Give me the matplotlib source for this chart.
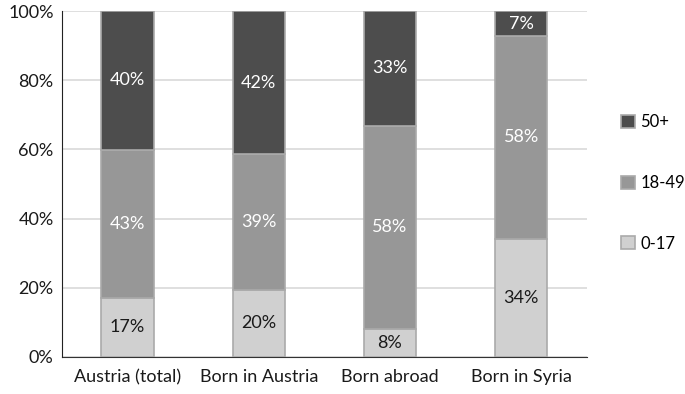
import matplotlib
matplotlib.use("Agg")
import matplotlib.pyplot as plt
import numpy as np

categories = ["Austria (total)", "Born in Austria", "Born abroad", "Born in Syria"]
series_names = ["0-17", "18-49", "50+"]
v_0_17 = [17.1, 19.4, 8.2, 34.2]
v_18_49 = [42.8, 39.2, 58.6, 58.5]
v_50 = [40.1, 41.4, 33.2, 7.3]
labels_0_17 = ["17%", "20%", "8%", "34%"]
labels_18_49 = ["43%", "39%", "58%", "58%"]
labels_50 = ["40%", "42%", "33%", "7%"]
yticks = [0, 20, 40, 60, 80, 100]
ytick_labels = ["0%", "20%", "40%", "60%", "80%", "100%"]

colors = ["#d0d0d0", "#979797", "#4d4d4d"]
text_colors = ["#1a1a1a", "white", "white"]

plt.rcParams["font.family"] = ["Lato", "DejaVu Sans"]
fig = plt.figure(figsize=(6.85, 3.94), dpi=100)
ax = fig.add_axes([0.0905, 0.094, 0.766, 0.878])

x = np.arange(len(categories))
bottom = np.zeros(len(categories))
handles = []
for vals, labs, col, tc, name in zip([v_0_17, v_18_49, v_50],
                                     [labels_0_17, labels_18_49, labels_50],
                                     colors, text_colors, series_names):
    vals = np.array(vals)
    b = ax.bar(x, vals, 0.4, bottom=bottom, color=col, edgecolor="#aaaaaa",
               linewidth=1.2, label=name, zorder=3)
    handles.append(b)
    for xi, bi, vi, lab in zip(x, bottom, vals, labs):
        ax.text(xi, bi + vi / 2, lab, ha="center", va="center", color=tc,
                fontsize=13, zorder=4)
    bottom += vals

ax.set_xlim(-0.5, len(categories) - 0.5)
ax.set_ylim(0, 100)
ax.set_yticks(yticks)
ax.set_yticklabels(ytick_labels)
ax.set_xticks(x)
ax.set_xticklabels(categories)
ax.tick_params(axis="both", length=0, labelsize=13, colors="#1a1a1a")
ax.tick_params(axis="y", pad=6)
ax.tick_params(axis="x", pad=9)
ax.grid(axis="y", color="#d9d9d9", linewidth=1.2, zorder=0)
for s in ["top", "right"]:
    ax.spines[s].set_visible(False)
ax.spines["left"].set_color("#222222")
ax.spines["bottom"].set_color("#333333")
ax.spines["left"].set_zorder(5)

leg = fig.legend(handles[::-1], series_names[::-1], loc="upper left",
                 bbox_to_anchor=(0.907, 0.71), frameon=False, fontsize=12,
                 handlelength=0.8, handleheight=0.8, handletextpad=0.35,
                 labelspacing=2.68, borderpad=0, borderaxespad=0)

fig.savefig("out.png", dpi=100)
